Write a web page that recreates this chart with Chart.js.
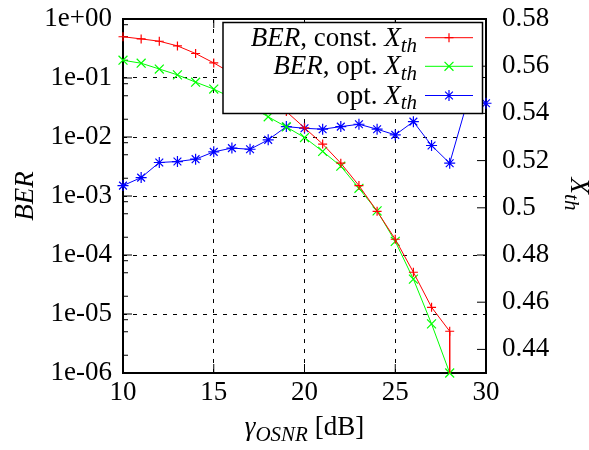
<!DOCTYPE html>
<html>
<head>
<meta charset="utf-8">
<script src="https://cdn.jsdelivr.net/npm/chart.js@4/dist/chart.umd.min.js"></script>
<style>
  html, body { margin: 0; padding: 0; background: #fff; }
  canvas { display: block; }
</style>
</head>
<body>
<canvas id="c" width="589" height="450"></canvas>
<script>
// OSNR values in dB
const osnrBer = [10, 11, 12, 13, 14, 15, 16, 17, 18, 19, 20, 21, 22, 23, 24, 25, 26, 27, 28];
const osnrConst = [10, 11, 12, 13, 14, 15, 16, 17, 18, 19, 20, 21, 22, 23, 24, 25, 26, 27, 28, 28];
const osnrXth = [10, 11, 12, 13, 14, 15, 16, 17, 18, 19, 20, 21, 22, 23, 24, 25, 26, 27, 28, 29, 30];

// BER with a constant decision threshold (last entry closes the curve at the floor)
const berConst = [0.50, 0.46, 0.42, 0.35, 0.26, 0.18, 0.12, 0.079, 0.047, 0.027,
                  0.0143, 0.0076, 0.0036, 0.0015, 5.5e-4, 1.85e-4, 5.1e-5, 1.3e-5, 5.1e-6, 1e-6];
// BER with the optimised threshold
const berOpt = [0.20, 0.178, 0.142, 0.113, 0.085, 0.065, 0.046, 0.033, 0.022, 0.0148,
                0.0098, 0.0057, 0.0032, 0.00135, 5.6e-4, 1.7e-4, 3.9e-5, 6.8e-6, 1.0e-6];
// optimised threshold X_th (right axis)
const xthOpt = [0.5094, 0.5128, 0.5192, 0.5196, 0.5206, 0.5237, 0.5253, 0.5248, 0.5288, 0.5344,
                0.5337, 0.5333, 0.5344, 0.5354, 0.5333, 0.5309, 0.5365, 0.5264, 0.5189, 0.5457, 0.5443];

// axis ticks and their labels
const osnrTicks = [10, 15, 20, 25, 30];
const berTicks = [1, 1e-1, 1e-2, 1e-3, 1e-4, 1e-5, 1e-6];
const berTickLabels = ['1e+00', '1e-01', '1e-02', '1e-03', '1e-04', '1e-05', '1e-06'];
const berMinor = [2, 5, 8];
const xthTicks = [0.44, 0.46, 0.48, 0.5, 0.52, 0.54, 0.56, 0.58];
const xthTickLabels = ['0.44', '0.46', '0.48', '0.5', '0.52', '0.54', '0.56', '0.58'];

// series labels as styled runs: [text, style]  (i = italic, r = roman, s = italic subscript)
const seriesNames = [
  [['BER', 'i'], [', const. ', 'r'], ['X', 'i'], ['th', 's']],
  [['BER', 'i'], [', opt. ', 'r'], ['X', 'i'], ['th', 's']],
  [['opt. ', 'r'], ['X', 'i'], ['th', 's']]
];
const xTitle = [['γ', 'i'], ['OSNR', 's'], [' [dB]', 'r']];
const yTitle = [['BER', 'i']];
const y2Title = [['X', 'i'], ['th', 's']];

const FONT = '"Liberation Serif", "Times New Roman", serif';
const FS = 27;

// plot rectangle inside the canvas
const AREA = { left: 123, top: 19, right: 486, bottom: 373 };

function fontFor(style, size) {
  if (style === 's') return 'italic ' + Math.round(size * 0.78) + 'px ' + FONT;
  if (style === 'i') return 'italic ' + size + 'px ' + FONT;
  return size + 'px ' + FONT;
}

function richWidth(ctx, runs, size) {
  let w = 0;
  runs.forEach(r => { ctx.font = fontFor(r[1], size); w += ctx.measureText(r[0]).width; });
  return w;
}

function drawRich(ctx, runs, x, y, align, size) {
  const total = richWidth(ctx, runs, size);
  let cx = align === 'right' ? x - total : align === 'center' ? x - total / 2 : x;
  ctx.textAlign = 'left';
  ctx.textBaseline = 'alphabetic';
  runs.forEach(r => {
    ctx.font = fontFor(r[1], size);
    const dy = r[1] === 's' ? size * 0.22 : 0;
    ctx.fillText(r[0], cx, y + dy);
    cx += ctx.measureText(r[0]).width;
  });
}

function line(ctx, x1, y1, x2, y2) {
  ctx.beginPath(); ctx.moveTo(x1, y1); ctx.lineTo(x2, y2); ctx.stroke();
}

// frame with inward ticks, key box and axis titles
const framePlugin = {
  id: 'frame',
  beforeDatasetsDraw(chart) {
    const { ctx, chartArea: a, scales } = chart;
    ctx.save();
    ctx.setLineDash([]);
    ctx.strokeStyle = '#000';
    ctx.lineWidth = 1;
    const major = 9, minor = 5;
    osnrTicks.forEach(v => {
      const px = scales.x.getPixelForValue(v);
      line(ctx, px, a.bottom, px, a.bottom - major);
      line(ctx, px, a.top, px, a.top + major);
    });
    berTicks.forEach(v => {
      const py = scales.y.getPixelForValue(v);
      line(ctx, a.left, py, a.left + major, py);
    });
    for (let e = -6; e < 0; e++) {
      berMinor.forEach(m => {
        const py = scales.y.getPixelForValue(m * Math.pow(10, e));
        line(ctx, a.left, py, a.left + minor, py);
      });
    }
    xthTicks.forEach(v => {
      const py = scales.y2.getPixelForValue(v);
      line(ctx, a.right, py, a.right - major, py);
    });
    ctx.lineWidth = 2;
    ctx.strokeRect(a.left, a.top, a.width, a.height);
    ctx.restore();
  },
  afterDatasetsDraw(chart) {
    const { ctx } = chart;
    const box = { l: 223, t: 22.5, r: 482.5, b: 113.5 };
    ctx.save();
    ctx.setLineDash([]);
    ctx.fillStyle = '#fff';
    ctx.fillRect(box.l, box.t, box.r - box.l, box.b - box.t);
    ctx.strokeStyle = '#000';
    ctx.lineWidth = 1.5;
    ctx.strokeRect(box.l, box.t, box.r - box.l, box.b - box.t);
    const rowY = [37.7, 66.3, 95.5];
    chart.data.datasets.forEach((ds, i) => {
      const y = rowY[i];
      ctx.fillStyle = '#000';
      drawRich(ctx, seriesNames[i], 417, y + 8, 'right', FS);
      ctx.strokeStyle = ds.borderColor;
      ctx.lineWidth = 1;
      line(ctx, 425, y, 473, y);
      ctx.fillStyle = ds.borderColor;
      ctx.lineWidth = 1.2;
      Chart.helpers.drawPoint(ctx, { pointStyle: ds.pointStyle, radius: ds.pointRadius[0], borderWidth: 1.2 }, 449, y);
    });
    ctx.restore();
  },
  afterDraw(chart) {
    const { ctx, chartArea: a } = chart;
    ctx.save();
    ctx.fillStyle = '#000';
    const cy = (a.top + a.bottom) / 2;
    ctx.save();
    ctx.translate(33, cy);
    ctx.rotate(-Math.PI / 2);
    drawRich(ctx, yTitle, 0, 0, 'center', FS);
    ctx.restore();
    ctx.save();
    ctx.translate(571, cy - 2);
    ctx.rotate(Math.PI / 2);
    drawRich(ctx, y2Title, 0, 0, 'center', FS);
    ctx.restore();
    drawRich(ctx, xTitle, (a.left + a.right) / 2, 435, 'center', FS);
    ctx.restore();
  }
};

const pts = (xs, ys) => xs.map((x, i) => ({ x, y: ys[i] }));
const noEdge = v => (v === 10 || v === 30 || v === 1 || v === 1e-6) ? 'rgba(0,0,0,0)' : '#000';
const tickFont = { family: FONT, size: FS };

// labels may overhang the plot edges; keep the plot rectangle fixed
const fitVertical = w => s => { s.width = w; s.paddingTop = 0; s.paddingBottom = 0; };

new Chart(document.getElementById('c'), {
  type: 'line',
  data: {
    datasets: [
      {
        label: 'BER, const. X_th',
        data: pts(osnrConst, berConst),
        yAxisID: 'y',
        borderColor: '#ff0000',
        pointBorderColor: '#ff0000',
        pointStyle: 'cross',
        pointRadius: osnrConst.map((x, i) => (i === osnrConst.length - 1 ? 0 : 4.5)),
        pointBorderWidth: 1.2,
        borderWidth: 1,
        tension: 0,
        clip: false
      },
      {
        label: 'BER, opt. X_th',
        data: pts(osnrBer, berOpt),
        yAxisID: 'y',
        borderColor: '#00ff00',
        pointBorderColor: '#00ff00',
        pointStyle: 'crossRot',
        pointRadius: osnrBer.map(() => 6.3),
        pointBorderWidth: 1.2,
        borderWidth: 1,
        tension: 0,
        clip: false
      },
      {
        label: 'opt. X_th',
        data: pts(osnrXth, xthOpt),
        yAxisID: 'y2',
        borderColor: '#0000ff',
        pointBorderColor: '#0000ff',
        pointStyle: 'star',
        pointRadius: osnrXth.map(() => 5.5),
        pointBorderWidth: 1.2,
        borderWidth: 1,
        tension: 0,
        clip: false
      }
    ]
  },
  options: {
    responsive: false,
    animation: false,
    devicePixelRatio: 1,
    layout: { padding: { top: AREA.top, left: 0, right: 0, bottom: 0 } },
    plugins: { legend: { display: false }, tooltip: { enabled: false } },
    scales: {
      x: {
        type: 'linear', min: 10, max: 30,
        afterBuildTicks: s => { s.ticks = osnrTicks.map(v => ({ value: v })); },
        afterFit: s => { s.height = 450 - AREA.bottom; s.paddingLeft = 0; s.paddingRight = 0; },
        ticks: { font: tickFont, color: '#000', padding: 4, maxRotation: 0, callback: v => String(v) },
        grid: { color: c => noEdge(c.tick ? c.tick.value : 0), lineWidth: 1, drawTicks: false },
        border: { display: false, dash: [4, 6] }
      },
      y: {
        type: 'logarithmic', position: 'left', min: 1e-6, max: 1,
        afterBuildTicks: s => { s.ticks = berTicks.slice().reverse().map(v => ({ value: v })); },
        afterFit: fitVertical(AREA.left),
        ticks: {
          font: tickFont, color: '#000', padding: 11,
          callback: v => berTickLabels[berTicks.findIndex(t => Math.abs(Math.log10(t) - Math.log10(v)) < 1e-6)]
        },
        grid: { color: c => noEdge(c.tick ? c.tick.value : 0), lineWidth: 1, drawTicks: false },
        border: { display: false, dash: [4, 6] }
      },
      y2: {
        type: 'linear', position: 'right', min: 0.43, max: 0.58,
        afterBuildTicks: s => { s.ticks = xthTicks.map(v => ({ value: v })); },
        afterFit: fitVertical(589 - AREA.right),
        ticks: {
          font: tickFont, color: '#000', padding: 16,
          callback: v => xthTickLabels[xthTicks.findIndex(t => Math.abs(t - v) < 1e-9)]
        },
        grid: { display: false, drawTicks: false },
        border: { display: false }
      }
    }
  },
  plugins: [framePlugin]
});
</script>
</body>
</html>
